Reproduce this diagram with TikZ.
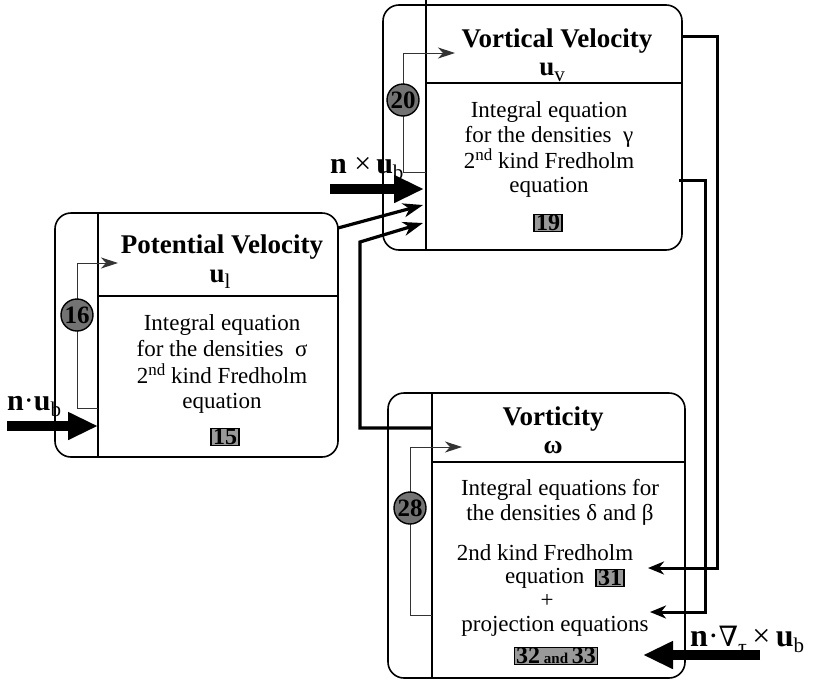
\documentclass[tikz,border=0pt]{standalone}
\usepackage{fontspec}
\setmainfont{Liberation Serif}
\newfontfamily\symfnt{DejaVu Serif}
\usetikzlibrary{arrows.meta}
\begin{document}
\begin{tikzpicture}[x=1pt,y=-1pt,
  box/.style={draw, line width=1.6pt, rounded corners=16pt, inner sep=0pt},
  innerline/.style={line width=1.1pt},
  loopline/.style={line width=0.9pt, draw=black!80, -{Stealth[length=17pt,width=11pt,inset=5pt]}},
  feed/.style={line width=3.2pt, -{Stealth[length=20pt,width=14pt,inset=6pt]}},
  sidefeed/.style={line width=3pt, -{Stealth[length=16pt,width=13pt,inset=5pt]}},
  bigin/.style={line width=10pt, -{Triangle[length=30pt,width=26pt]}},
  ttl/.style={font=\bfseries\fontsize{27}{27}\selectfont, anchor=base, inner sep=0pt},
  txt/.style={font=\fontsize{23}{23}\selectfont, anchor=base, inner sep=0pt},
  lbl/.style={font=\fontsize{30}{30}\selectfont, anchor=base west, inner sep=0pt},
  badge/.style={draw, line width=1.1pt, fill=black!40, font=\bfseries\fontsize{24}{24}\selectfont, inner xsep=2pt, inner ysep=0.5pt},
  eqc/.style={circle, draw, line width=1.4pt, fill=black!55, minimum size=32pt, inner sep=0pt, font=\bfseries\fontsize{25}{25}\selectfont}
]
\path[use as bounding box] (0,0) rectangle (813,683);
\newcommand{\sbs}[1]{\raisebox{-6pt}{\fontsize{21}{21}\selectfont\mdseries #1}}
\newcommand{\nd}{\raisebox{8pt}{\fontsize{17}{17}\selectfont nd}}

% ---------- boxes ----------
\node[box, minimum width=283pt, minimum height=244pt] (b1) at (196.5,335) {};
\node[box, minimum width=299pt, minimum height=245pt] (b2) at (532.5,127.5) {};
\node[box, minimum width=297pt, minimum height=285pt] (b3) at (536.5,535.5) {};

% inner lines and dividers
\coordinate (i1t) at (98,213);  \coordinate (i1b) at (98,457);
\coordinate (d1l) at (98,296);  \coordinate (d1r) at (338,296);
\coordinate (i2t) at (426,0);   \coordinate (i2b) at (426,249);
\coordinate (d2l) at (426,83);  \coordinate (d2r) at (682,83);
\coordinate (i3t) at (432,393); \coordinate (i3b) at (432,678);
\coordinate (d3l) at (432,462); \coordinate (d3r) at (685,462);
\draw[innerline] (i1t) -- (i1b) (d1l) -- (d1r);
\draw[innerline] (i2t) -- (i2b) (d2l) -- (d2r);
\draw[innerline] (i3t) -- (i3b) (d3l) -- (d3r);

% ---------- box 1 texts ----------
\node[ttl] (t1a) at (222,253) {Potential Velocity};
\node[ttl] (t1b) at (220,282) {u\sbs{l}};
\node[txt] (t1c) at (222,330) {Integral equation};
\node[txt] (t1d) at (222,356) {for the densities \ σ};
\node[txt] (t1e) at (222,383) {2\nd{} kind Fredholm};
\node[txt] (t1f) at (222,408) {equation};
\node[badge] (e15) at (225,437) {15};

% ---------- box 2 texts ----------
\node[ttl] (t2a) at (557,47) {Vortical Velocity};
\node[ttl] (t2b) at (552,75) {u\sbs{v}};
\node[txt] (t2c) at (549,117) {Integral equation};
\node[txt] (t2d) at (549,142) {for the densities \ γ};
\node[txt] (t2e) at (549,168) {2\nd{} kind Fredholm};
\node[txt] (t2f) at (549,192) {equation};
\node[badge] (e19) at (548,223) {19};

% ---------- box 3 texts ----------
\node[ttl] (t3a) at (553,425) {Vorticity};
\node[txt, font=\bfseries\fontsize{26}{26}\selectfont] (t3b) at (553,453) {ω};
\node[txt] (t3c) at (560,495) {Integral equations for};
\node[txt] (t3d) at (560,520) {the densities δ and β};
\node[txt] (t3e) at (545,560) {2nd kind Fredholm};
\node[txt, anchor=base west] (t3f) at (505,583) {equation};
\node[badge] (e31) at (610,578) {31};
\node[txt] (t3g) at (547,607) {+};
\node[txt] (t3h) at (555,631) {projection equations};
\node[badge] (e32) at (556,656) {32{\fontsize{15}{15}\selectfont\ and\ }33};

% ---------- loop arrows with circled equation numbers ----------
\coordinate (l1a) at (98,408);  \coordinate (l1b) at (77,408);
\coordinate (l1c) at (77,263);  \coordinate (l1d) at (118,263);
\draw[loopline] (l1a) -- (l1b) -- (l1c) -- (l1d);
\node[eqc] (c16) at (77,315) {16};

\coordinate (l2a) at (426,172); \coordinate (l2b) at (403,172);
\coordinate (l2c) at (403,53);  \coordinate (l2d) at (455,53);
\draw[loopline] (l2a) -- (l2b) -- (l2c) -- (l2d);
\node[eqc] (c20) at (403,100) {20};

\coordinate (l3a) at (432,615); \coordinate (l3b) at (410,615);
\coordinate (l3c) at (410,447); \coordinate (l3d) at (462,447);
\draw[loopline] (l3a) -- (l3b) -- (l3c) -- (l3d);
\node[eqc] (c28) at (410,508) {28};

% ---------- feeds between boxes ----------
\coordinate (f1s) at (338,228); \coordinate (f1e) at (423,205);
\draw[feed] (f1s) -- (f1e);
\coordinate (f2s) at (432,428); \coordinate (f2a) at (360,428);
\coordinate (f2b) at (360,242); \coordinate (f2e) at (423,223);
\draw[feed] (f2s) -- (f2a) -- (f2b) -- (f2e);
\coordinate (f3s) at (682,36);  \coordinate (f3a) at (717,36);
\coordinate (f3b) at (717,568); \coordinate (f3e) at (648,568);
\draw[sidefeed] (f3s) -- (f3a) -- (f3b) -- (f3e);
\coordinate (f4s) at (679,180); \coordinate (f4a) at (705,180);
\coordinate (f4b) at (705,612); \coordinate (f4e) at (650,612);
\draw[sidefeed] (f4s) -- (f4a) -- (f4b) -- (f4e);

% ---------- boundary inputs ----------
\coordinate (in1s) at (7,426);   \coordinate (in1e) at (98,426);
\draw[bigin] (in1s) -- (in1e);
\node[lbl] (n1) at (7,410) {\textbf{n}·\textbf{u}\sbs{b}};

\coordinate (in2s) at (330,189); \coordinate (in2e) at (424,189);
\draw[bigin] (in2s) -- (in2e);
\node[lbl] (n2) at (330,173) {\textbf{n} ×\,\textbf{u}\sbs{b}};

\coordinate (in3s) at (760,655); \coordinate (in3e) at (643,655);
\draw[bigin] (in3s) -- (in3e);
\node[lbl, font=\fontsize{32}{32}\selectfont] (n3) at (690,646) {\textbf{n}·{\symfnt\fontsize{28}{28}\selectfont ∇}\raisebox{-8pt}{\fontsize{22}{22}\selectfont τ}\,×\,\textbf{u}\sbs{b}};
\end{tikzpicture}
\end{document}
